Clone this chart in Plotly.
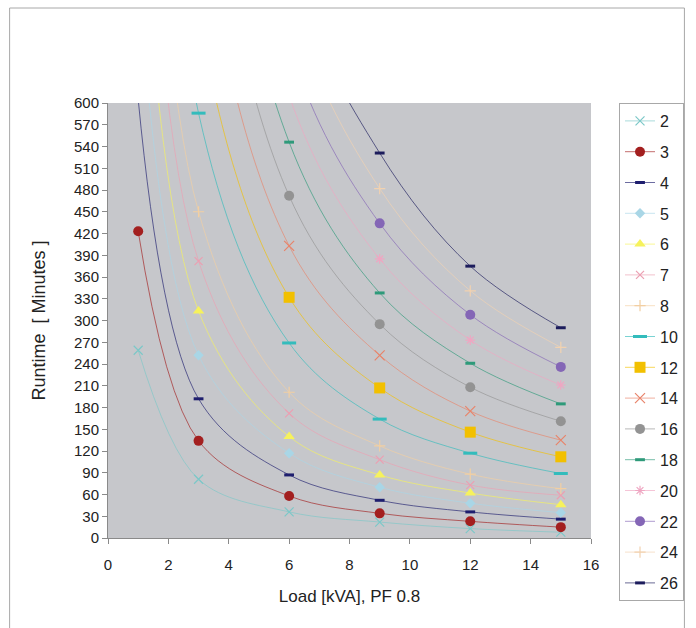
import plotly.graph_objects as go

# ---- data ----
loads = [1, 3, 6, 9, 12, 15]
series_names = ["2", "3", "4", "5", "6", "7", "8", "10", "12", "14", "16", "18", "20", "22", "24", "26"]

r2 = [259, 81, 36, 22, 13, 8]
r3 = [423, 134, 58, 34, 23, 15]
r4 = [605, 192, 87, 52, 36, 26]
r5 = [790, 252, 117, 70, 48, 35]
r6 = [985, 313, 140, 87, 62, 46]
r7 = [1200, 382, 172, 108, 73, 59]
r8 = [1420, 450, 201, 127, 88, 68]
r10 = [1850, 586, 269, 164, 117, 89]
r12 = [2280, 720, 332, 207, 146, 112]
r14 = [2800, 880, 403, 252, 175, 135]
r16 = [3300, 1040, 472, 295, 208, 161]
r18 = [3800, 1200, 546, 338, 241, 185]
r20 = [4300, 1360, 610, 385, 273, 211]
r22 = [4900, 1540, 680, 434, 308, 236]
r24 = [5400, 1700, 750, 482, 341, 263]
r26 = [6000, 1880, 800, 531, 375, 290]

runtimes = [r2, r3, r4, r5, r6, r7, r8, r10, r12, r14, r16, r18, r20, r22, r24, r26]

y_ticks = list(range(0, 601, 30))
x_ticks = list(range(0, 17, 2))

# ---- styles ----
styles = [
    dict(color="#7cc8c8", symbol="x-thin", size=9, lw=1.2),
    dict(color="#a31f1f", symbol="circle", size=10, lw=0),
    dict(color="#1e1e6e", symbol="line-ew", size=7, lw=3),
    dict(color="#a9d6e6", symbol="diamond", size=8, lw=0),
    dict(color="#f6f25c", symbol="triangle-up", size=10, lw=0),
    dict(color="#ec9fb2", symbol="x-thin", size=8, lw=1.2),
    dict(color="#f2cfa2", symbol="cross-thin", size=8, lw=1.2),
    dict(color="#33bcbc", symbol="line-ew", size=10, lw=3),
    dict(color="#f2c000", symbol="square", size=11, lw=0),
    dict(color="#e8846a", symbol="x-thin", size=10, lw=1.2),
    dict(color="#939393", symbol="circle", size=10, lw=0),
    dict(color="#2e9a7a", symbol="line-ew", size=7, lw=3),
    dict(color="#efa6c2", symbol="asterisk", size=8, lw=1.2),
    dict(color="#8466b6", symbol="circle", size=10, lw=0),
    dict(color="#f2d2b0", symbol="cross-thin", size=8, lw=1.2),
    dict(color="#1c1c5c", symbol="line-ew", size=7, lw=3),
]


def faded(hex_color, alpha=0.65):
    h = hex_color.lstrip("#")
    r, g, b = int(h[0:2], 16), int(h[2:4], 16), int(h[4:6], 16)
    return f"rgba({r},{g},{b},{alpha})"


fig = go.Figure()
for name, vals, st in zip(series_names, runtimes, styles):
    fig.add_trace(go.Scatter(
        x=loads, y=vals, name=name, mode="lines+markers",
        legendgroup=name,
        line=dict(color=faded(st["color"]), width=1, shape="spline", smoothing=1.0),
        marker=dict(symbol=st["symbol"], size=st["size"], color=st["color"],
                    line=dict(color=st["color"], width=st["lw"])),
    ))

font_family = "Liberation Sans, Arial, sans-serif"

fig.update_layout(
    width=696, height=628,
    margin=dict(l=108, r=102, t=103, b=90),
    paper_bgcolor="white",
    plot_bgcolor="#c6c7cb",
    font=dict(family=font_family, size=15, color="#222222"),
    showlegend=True,
    legend=dict(
        x=1.058, y=1.0, xanchor="left", yanchor="top",
        bordercolor="#a8a8a8", borderwidth=1, bgcolor="white",
        font=dict(size=16, color="#222222"),
        traceorder="grouped", tracegroupgap=7,
        itemwidth=30, maxheight=600,
        entrywidth=80, entrywidthmode="pixels",
    ),
    xaxis=dict(
        range=[0, 16], tickvals=x_ticks, showgrid=False, zeroline=False,
        showline=True, linecolor="#8a8a8a", linewidth=1,
        ticks="outside", ticklen=5, tickcolor="#8a8a8a",
        ticklabelstandoff=8,
        tickfont=dict(size=15, color="#222222"),
        title=dict(text="Load [kVA], PF 0.8", font=dict(size=17, color="#222222"), standoff=18),
    ),
    yaxis=dict(
        range=[0, 600], tickvals=y_ticks, showgrid=False, zeroline=False,
        showline=True, linecolor="#8a8a8a", linewidth=1,
        ticks="outside", ticklen=5, tickcolor="#8a8a8a",
        tickfont=dict(size=15, color="#222222"),
        title=dict(text="Runtime \u00a0[ Minutes ]", font=dict(size=18, color="#222222"), standoff=23),
    ),
    shapes=[dict(
        type="rect", xref="paper", yref="paper",
        x0=(9 - 108) / 486, x1=(688 - 108) / 486,
        y0=(538 - 640) / 435, y1=(538 - 8) / 435,
        line=dict(color="#a8a8a8", width=1), fillcolor="rgba(0,0,0,0)",
        layer="below",
    )],
)

fig.write_html("out.html")
